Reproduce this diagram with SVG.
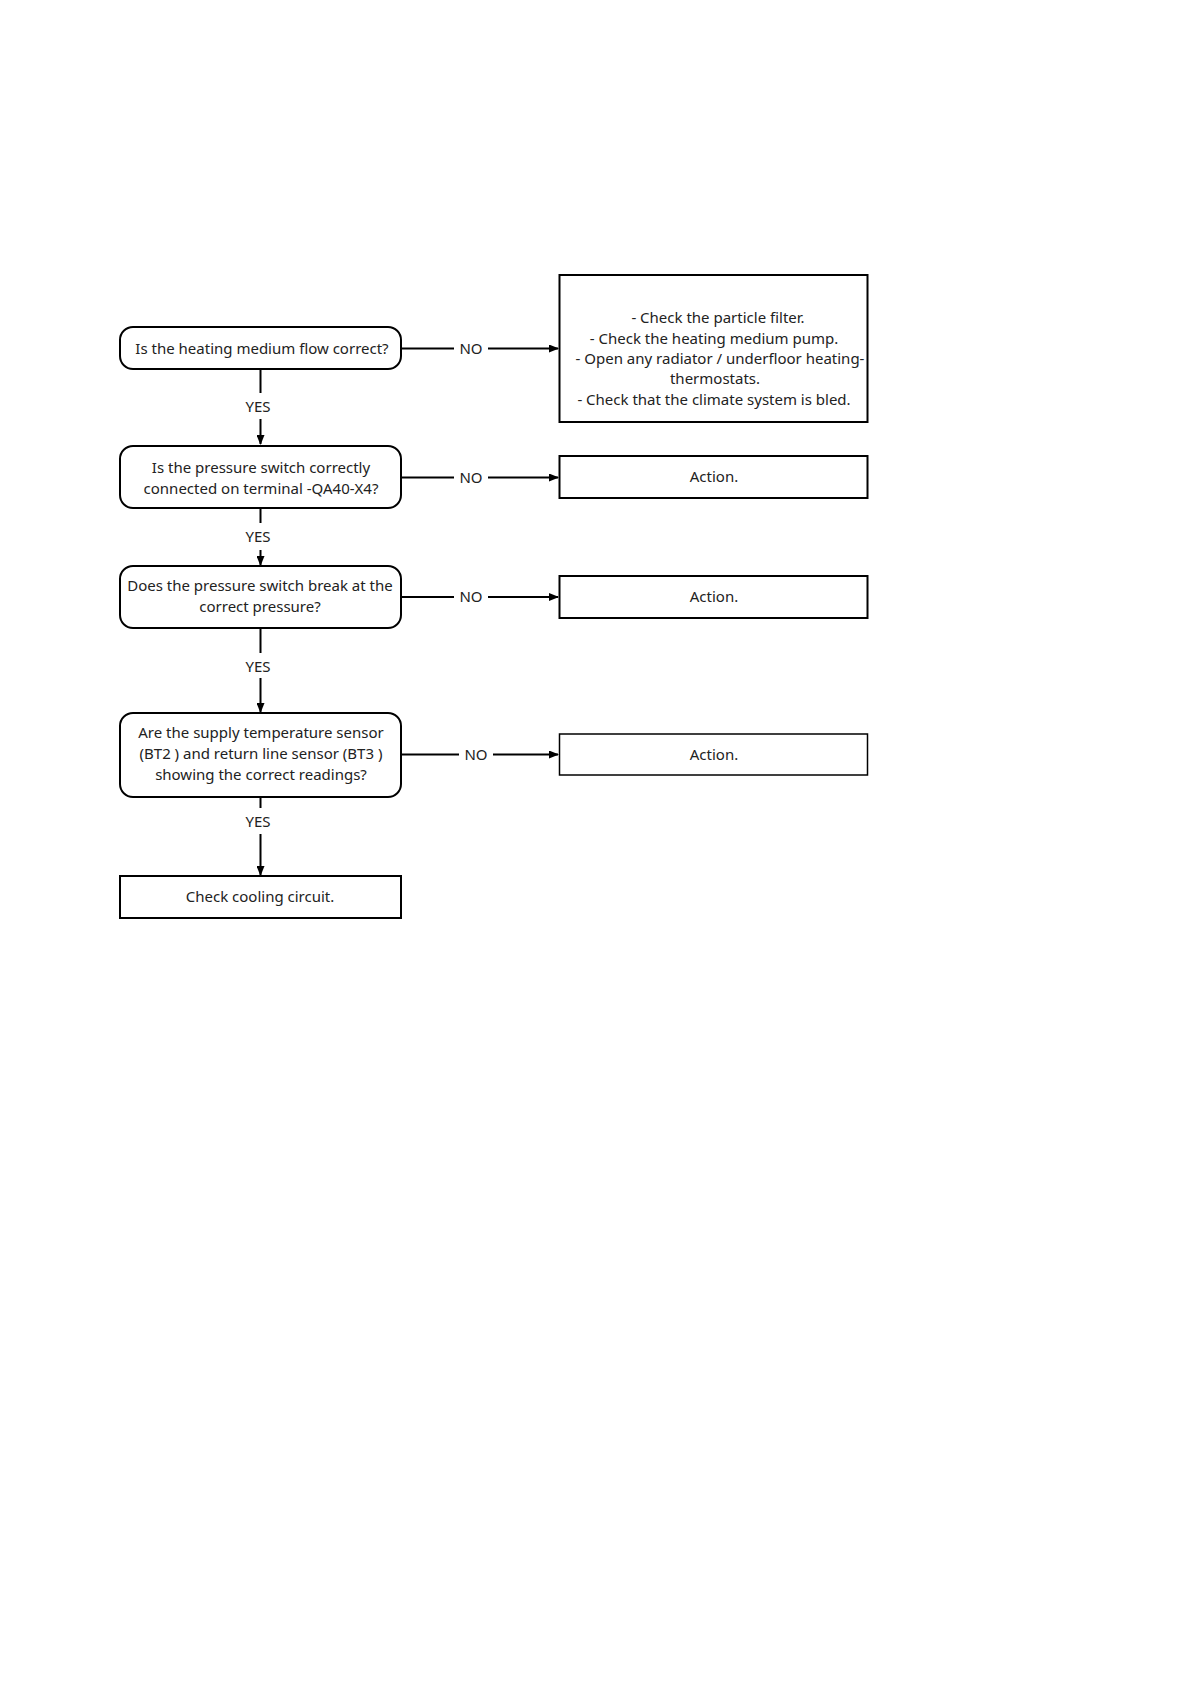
<svg xmlns="http://www.w3.org/2000/svg" width="1191" height="1684" viewBox="0 0 1191 1684">
<style>
.dec{fill:#fff;stroke:#000;stroke-width:2}
.act{fill:#fff;stroke:#000;stroke-width:2}
.t{font-family:"Noto Sans","Open Sans",sans-serif;font-size:15px;fill:#222;text-anchor:middle}
.c{fill:none;stroke:#000;stroke-width:2}
</style>
<defs>
<marker id="ah" markerWidth="10" markerHeight="8" refX="9" refY="4" orient="auto" markerUnits="userSpaceOnUse">
<path d="M0,0 L10,4 L0,8 Z" fill="#000"/>
</marker>
</defs>
<rect width="1191" height="1684" fill="#fff"/>
<g id="connectors">
<path class="c" d="M401,348.5 H454 M488,348.5 H558" marker-end="url(#ah)"/>
<path class="c" d="M260.5,369 V393 M260.5,419 V444" marker-end="url(#ah)"/>
<path class="c" d="M401,477.5 H454 M488,477.5 H558" marker-end="url(#ah)"/>
<path class="c" d="M260.5,508 V523 M260.5,550 V565" marker-end="url(#ah)"/>
<path class="c" d="M401,597 H454 M488,597 H558" marker-end="url(#ah)"/>
<path class="c" d="M260.5,628 V653 M260.5,678 V712" marker-end="url(#ah)"/>
<path class="c" d="M401,754.5 H459 M493,754.5 H558" marker-end="url(#ah)"/>
<path class="c" d="M260.5,797 V808 M260.5,834 V875" marker-end="url(#ah)"/>
<text class="t" x="471" y="354">NO</text>
<text class="t" x="258" y="412">YES</text>
<text class="t" x="471" y="483">NO</text>
<text class="t" x="258" y="542">YES</text>
<text class="t" x="471" y="602">NO</text>
<text class="t" x="258" y="672">YES</text>
<text class="t" x="476" y="760">NO</text>
<text class="t" x="258" y="827">YES</text>
</g>
<g id="q1">
<rect class="dec" x="120" y="327" width="281" height="42" rx="13"/>
<text class="t" x="262" y="354">Is the heating medium flow correct?</text>
</g>
<g id="q2">
<rect class="dec" x="120" y="446" width="281" height="62" rx="13"/>
<text class="t" x="261" y="473">Is the pressure switch correctly</text>
<text class="t" x="261" y="494">connected on terminal -QA40-X4?</text>
</g>
<g id="q3">
<rect class="dec" x="120" y="566" width="281" height="62" rx="13"/>
<text class="t" x="260" y="591">Does the pressure switch break at the</text>
<text class="t" x="260" y="612">correct pressure?</text>
</g>
<g id="q4">
<rect class="dec" x="120" y="713" width="281" height="84" rx="13"/>
<text class="t" x="261" y="738">Are the supply temperature sensor</text>
<text class="t" x="261" y="759">(BT2 ) and return line sensor (BT3 )</text>
<text class="t" x="261" y="780">showing the correct readings?</text>
</g>
<g id="end">
<rect class="act" x="120" y="876" width="281" height="42"/>
<text class="t" x="260" y="902">Check cooling circuit.</text>
</g>
<g id="a1">
<rect class="act" x="559.5" y="275" width="308" height="147"/>
<text class="t" x="718" y="323">- Check the particle filter.</text>
<text class="t" x="714" y="344">- Check the heating medium pump.</text>
<text class="t" x="720" y="364">- Open any radiator / underfloor heating-</text>
<text class="t" x="715" y="384">thermostats.</text>
<text class="t" x="714" y="405">- Check that the climate system is bled.</text>
</g>
<g id="a2">
<rect class="act" x="559.5" y="456" width="308" height="42"/>
<text class="t" x="714" y="482">Action.</text>
</g>
<g id="a3">
<rect class="act" x="559.5" y="576" width="308" height="42"/>
<text class="t" x="714" y="602">Action.</text>
</g>
<g id="a4">
<rect class="act" x="559.5" y="734" width="308" height="41" style="stroke-width:1.5"/>
<text class="t" x="714" y="760">Action.</text>
</g>
</svg>
